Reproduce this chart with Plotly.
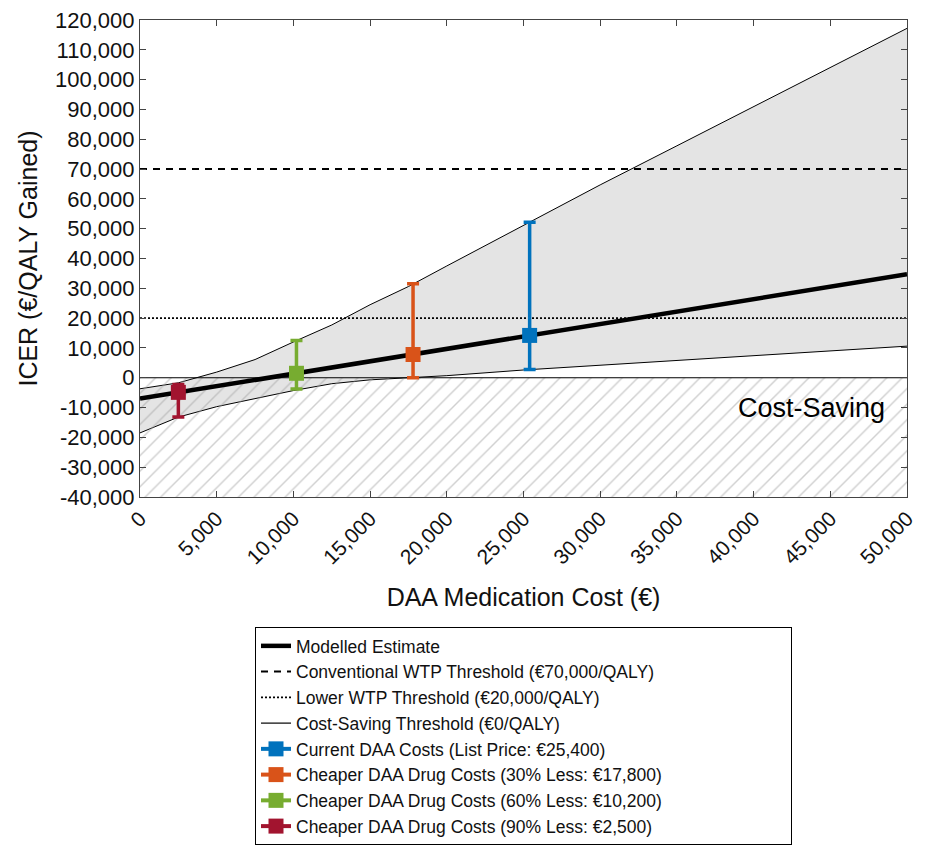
import plotly.graph_objects as go

# ---------------- data ----------------
cost_grid = [0, 2500, 5000, 7500, 10000, 12500, 15000, 17500, 20000, 25000, 30000, 35000, 40000, 45000, 50000]
band_upper = [-3700, -1700, 1900, 6100, 12000, 17700, 24500, 30600, 37500, 51000, 64700, 77800, 91000, 104100, 117200]
band_lower = [-18500, -13200, -9700, -7000, -4300, -2000, -700, 0, 700, 2600, 4200, 5800, 7400, 9000, 10600]

model_cost = [0, 50000]
model_icer = [-7000, 34700]

wtp_conventional = 70000
wtp_lower = 20000
cost_saving = 0

scenario_names = [
    "Current DAA Costs (List Price: €25,400)",
    "Cheaper DAA Drug Costs (30% Less: €17,800)",
    "Cheaper DAA Drug Costs (60% Less: €10,200)",
    "Cheaper DAA Drug Costs (90% Less: €2,500)",
]
scenario_cost = [25400, 17800, 10200, 2500]
scenario_icer = [14200, 7800, 1500, -4900]
scenario_low = [2800, 0, -3800, -13200]
scenario_high = [52200, 31500, 12500, -2300]
scenario_colors = ["#0072BD", "#D95319", "#77AC30", "#A2142F"]

x_range = [0, 50000]
y_range = [-40000, 120000]
x_tickvals = [0, 5000, 10000, 15000, 20000, 25000, 30000, 35000, 40000, 45000, 50000]
x_ticktext = ["0", "5,000", "10,000", "15,000", "20,000", "25,000", "30,000", "35,000", "40,000", "45,000", "50,000"]
y_tickvals = [-40000, -30000, -20000, -10000, 0, 10000, 20000, 30000, 40000, 50000, 60000, 70000, 80000, 90000, 100000, 110000, 120000]
y_ticktext = ["-40,000", "-30,000", "-20,000", "-10,000", "0", "10,000", "20,000", "30,000", "40,000", "50,000",
              "60,000", "70,000", "80,000", "90,000", "100,000", "110,000", "120,000"]

FONT = "Liberation Sans, Arial, Helvetica, sans-serif"

fig = go.Figure()

# uncertainty band
fig.add_trace(go.Scatter(x=cost_grid, y=band_lower, mode="lines", line=dict(color="black", width=1),
                         showlegend=False, hoverinfo="skip"))
fig.add_trace(go.Scatter(x=cost_grid, y=band_upper, mode="lines", line=dict(color="black", width=1),
                         fill="tonexty", fillcolor="#e4e4e4", showlegend=False, hoverinfo="skip"))

# hatched cost-saving region
fig.add_trace(go.Scatter(
    x=[x_range[0], x_range[1], x_range[1], x_range[0], x_range[0]],
    y=[cost_saving, cost_saving, y_range[0], y_range[0], cost_saving],
    mode="none", fill="toself", fillcolor="rgba(0,0,0,0)",
    fillpattern=dict(shape="/", fgcolor="#a0a0a0", bgcolor="rgba(0,0,0,0)", size=11, solidity=0.13),
    showlegend=False, hoverinfo="skip"))

# thresholds
fig.add_trace(go.Scatter(x=x_range, y=[wtp_conventional] * 2, mode="lines",
                         line=dict(color="black", width=2, dash="7px,6px"),
                         name="Conventional WTP Threshold (€70,000/QALY)", legendrank=2))
fig.add_trace(go.Scatter(x=x_range, y=[wtp_lower] * 2, mode="lines",
                         line=dict(color="black", width=1.6, dash="2px,2px"),
                         name="Lower WTP Threshold (€20,000/QALY)", legendrank=3))
fig.add_trace(go.Scatter(x=x_range, y=[cost_saving] * 2, mode="lines",
                         line=dict(color="black", width=1.2),
                         name="Cost-Saving Threshold (€0/QALY)", legendrank=4))

# modelled estimate
fig.add_trace(go.Scatter(x=model_cost, y=model_icer, mode="lines",
                         line=dict(color="black", width=4.5),
                         name="Modelled Estimate", legendrank=1))

# scenarios
for i, (nm, cx, cy, lo, hi, col) in enumerate(zip(scenario_names, scenario_cost, scenario_icer,
                                                  scenario_low, scenario_high, scenario_colors)):
    fig.add_trace(go.Scatter(
        x=[cx], y=[cy], mode="lines+markers", name=nm, legendrank=5 + i,
        line=dict(color=col, width=4),
        marker=dict(symbol="square", size=15, color=col, line=dict(width=0)),
        error_y=dict(type="data", symmetric=False, array=[hi - cy], arrayminus=[cy - lo],
                     color=col, thickness=3.5, width=6),
    ))

fig.add_annotation(x=1, xref="paper", xanchor="right", xshift=-20, y=-10000, yref="y",
                   text="Cost-Saving", showarrow=False, font=dict(family=FONT, size=27, color="black"))

axis_common = dict(showgrid=False, zeroline=False, showline=True, linecolor="#444", linewidth=1.2,
                   mirror="ticks", ticks="inside", ticklen=6, tickcolor="#444", tickwidth=1.2,
                   automargin=False, ticklabeloverflow="allow")

fig.update_xaxes(range=x_range, tickvals=x_tickvals, ticktext=x_ticktext, tickangle=-45,
                 tickfont=dict(family=FONT, size=21, color="#111"),
                 title=dict(text="DAA Medication Cost (€)", font=dict(family=FONT, size=25, color="#111"),
                            standoff=21),
                 **axis_common)
fig.update_yaxes(range=y_range, tickvals=y_tickvals, ticktext=y_ticktext,
                 tickfont=dict(family=FONT, size=22, color="#111"),
                 title=dict(text="ICER (€/QALY Gained)", font=dict(family=FONT, size=25, color="#111"),
                            standoff=10),
                 **axis_common)

# page body has an 8px margin, so the figure is 8px smaller than the window
fig.update_layout(
    width=925, height=837,
    margin=dict(l=132, r=26, t=12, b=348, autoexpand=False),
    plot_bgcolor="white", paper_bgcolor="white",
    font=dict(family=FONT, color="#111"),
    legend=dict(orientation="h", entrywidth=490, x=0.5, xanchor="center", y=-0.2725, yanchor="top",
                bordercolor="black", borderwidth=1, bgcolor="white",
                font=dict(family=FONT, size=17.5, color="#111"), traceorder="normal"),
)

fig.write_html("out.html")
